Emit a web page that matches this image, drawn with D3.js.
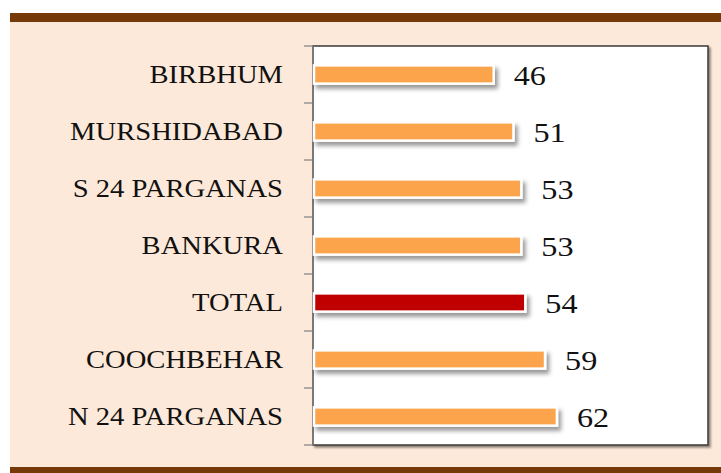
<!DOCTYPE html>
<html>
<head>
<meta charset="utf-8">
<script src="https://cdn.jsdelivr.net/npm/d3@7"></script>
<style>
	html, body { margin: 0; padding: 0; background: #ffffff; }
	svg { display: block; }
</style>
</head>
<body>
<svg id="chartSVG" width="721" height="473"></svg>
<script>

var districts = ["BIRBHUM", "MURSHIDABAD", "S 24 PARGANAS", "BANKURA", "TOTAL", "COOCHBEHAR", "N 24 PARGANAS"];
var scores = [46, 51, 53, 53, 54, 59, 62];
var highlighted = ["TOTAL"];
var xDomain = [0, 100];

var element = "#chartSVG";

renderFrame(element);
renderBars(element);

function renderFrame(element) {

	var svg = d3.select(element);

	var defs = svg.append("defs");

	var barShadow = defs.append("filter")
		.attr("id", "barShadow")
		.attr("x", "-10%").attr("y", "-60%")
		.attr("width", "130%").attr("height", "260%");

	barShadow.append("feDropShadow")
		.attr("dx", 3)
		.attr("dy", 4)
		.attr("stdDeviation", 2.2)
		.attr("flood-color", "#000")
		.attr("flood-opacity", 0.4);

	var boxShadow = defs.append("filter")
		.attr("id", "boxShadow")
		.attr("x", "-5%").attr("y", "-5%")
		.attr("width", "110%").attr("height", "110%");

	boxShadow.append("feDropShadow")
		.attr("dx", 2)
		.attr("dy", 2)
		.attr("stdDeviation", 1)
		.attr("flood-color", "#000")
		.attr("flood-opacity", 0.45);

	// peach panel with the brown rules top and bottom
	svg.append("rect")
		.attr("x", 10).attr("y", 13)
		.attr("width", 711).attr("height", 460)
		.attr("fill", "#fde9d9");

	svg.append("rect")
		.attr("x", 10).attr("y", 13)
		.attr("width", 711).attr("height", 9)
		.attr("fill", "#763a08");

	svg.append("rect")
		.attr("x", 10).attr("y", 467)
		.attr("width", 711).attr("height", 6)
		.attr("fill", "#763a08");

}

function renderBars(element) {

	var svg = d3.select(element);

	var plot = {left: 313, top: 46, right: 708, bottom: 445};

	var yScale = d3.scaleBand()
		.domain(districts)
		.range([plot.top, plot.bottom])
		.padding(0);

	var xScale = d3.scaleLinear()
		.domain(xDomain)
		.range([plot.left, plot.right]);

	var barHeight = yScale.bandwidth() * 0.32;

	svg.append("rect")
		.attr("x", plot.left)
		.attr("y", plot.top)
		.attr("width", plot.right - plot.left)
		.attr("height", plot.bottom - plot.top)
		.attr("fill", "#ffffff")
		.attr("stroke", "#3a3a3a")
		.attr("stroke-width", 1.5)
		.attr("filter", "url(#boxShadow)");

	// category boundaries as ticks on the left axis
	var boundaries = districts.map(function(d) { return yScale(d); }).concat([plot.bottom]);

	svg.append("g")
		.attr("class", "yTicks")
		.selectAll("line")
		.data(boundaries)
		.enter()
		.append("line")
		.attr("x1", plot.left - 9)
		.attr("x2", plot.left)
		.attr("y1", function(d) { return d; })
		.attr("y2", function(d) { return d; })
		.attr("stroke", "#7f7f7f")
		.attr("stroke-width", 1.2);

	svg.append("line")
		.attr("x1", plot.left).attr("x2", plot.left)
		.attr("y1", plot.top).attr("y2", plot.bottom)
		.attr("stroke", "#7f7f7f")
		.attr("stroke-width", 1.5);

	svg.append("g")
		.attr("class", "bars")
		.selectAll("rect")
		.data(districts)
		.enter()
		.append("rect")
		.attr("x", xScale(0) + 1)
		.attr("y", function(d) { return yScale(d) + (yScale.bandwidth() - barHeight) / 2; })
		.attr("width", function(d, i) { return xScale(scores[i]) - xScale(0) - 2; })
		.attr("height", barHeight)
		.attr("fill", function(d) { return highlighted.indexOf(d) >= 0 ? "#c00000" : "#fba44c"; })
		.attr("stroke", "#ffffff")
		.attr("stroke-width", 2.5)
		.attr("filter", "url(#barShadow)");

	svg.append("g")
		.attr("class", "categoryLabels")
		.selectAll("text")
		.data(districts)
		.enter()
		.append("text")
		.attr("transform", function(d) {
			return "translate(" + (plot.left - 30) + "," + (yScale(d) + yScale.bandwidth() / 2) + ") scale(1.1,1)";
		})
		.attr("text-anchor", "end")
		.attr("dominant-baseline", "central")
		.attr("font-family", "'Liberation Serif', 'DejaVu Serif', serif")
		.attr("font-size", 26)
		.attr("fill", "#111111")
		.text(function(d) { return d; });

	svg.append("g")
		.attr("class", "valueLabels")
		.selectAll("text")
		.data(districts)
		.enter()
		.append("text")
		.attr("transform", function(d, i) {
			return "translate(" + (xScale(scores[i]) + 19) + "," + (yScale(d) + yScale.bandwidth() / 2 + 1) + ") scale(1.15,1)";
		})
		.attr("text-anchor", "start")
		.attr("dominant-baseline", "central")
		.attr("font-family", "'Liberation Serif', 'DejaVu Serif', serif")
		.attr("font-size", 28)
		.attr("fill", "#111111")
		.text(function(d, i) { return scores[i]; });

}

</script>
</body>
</html>
